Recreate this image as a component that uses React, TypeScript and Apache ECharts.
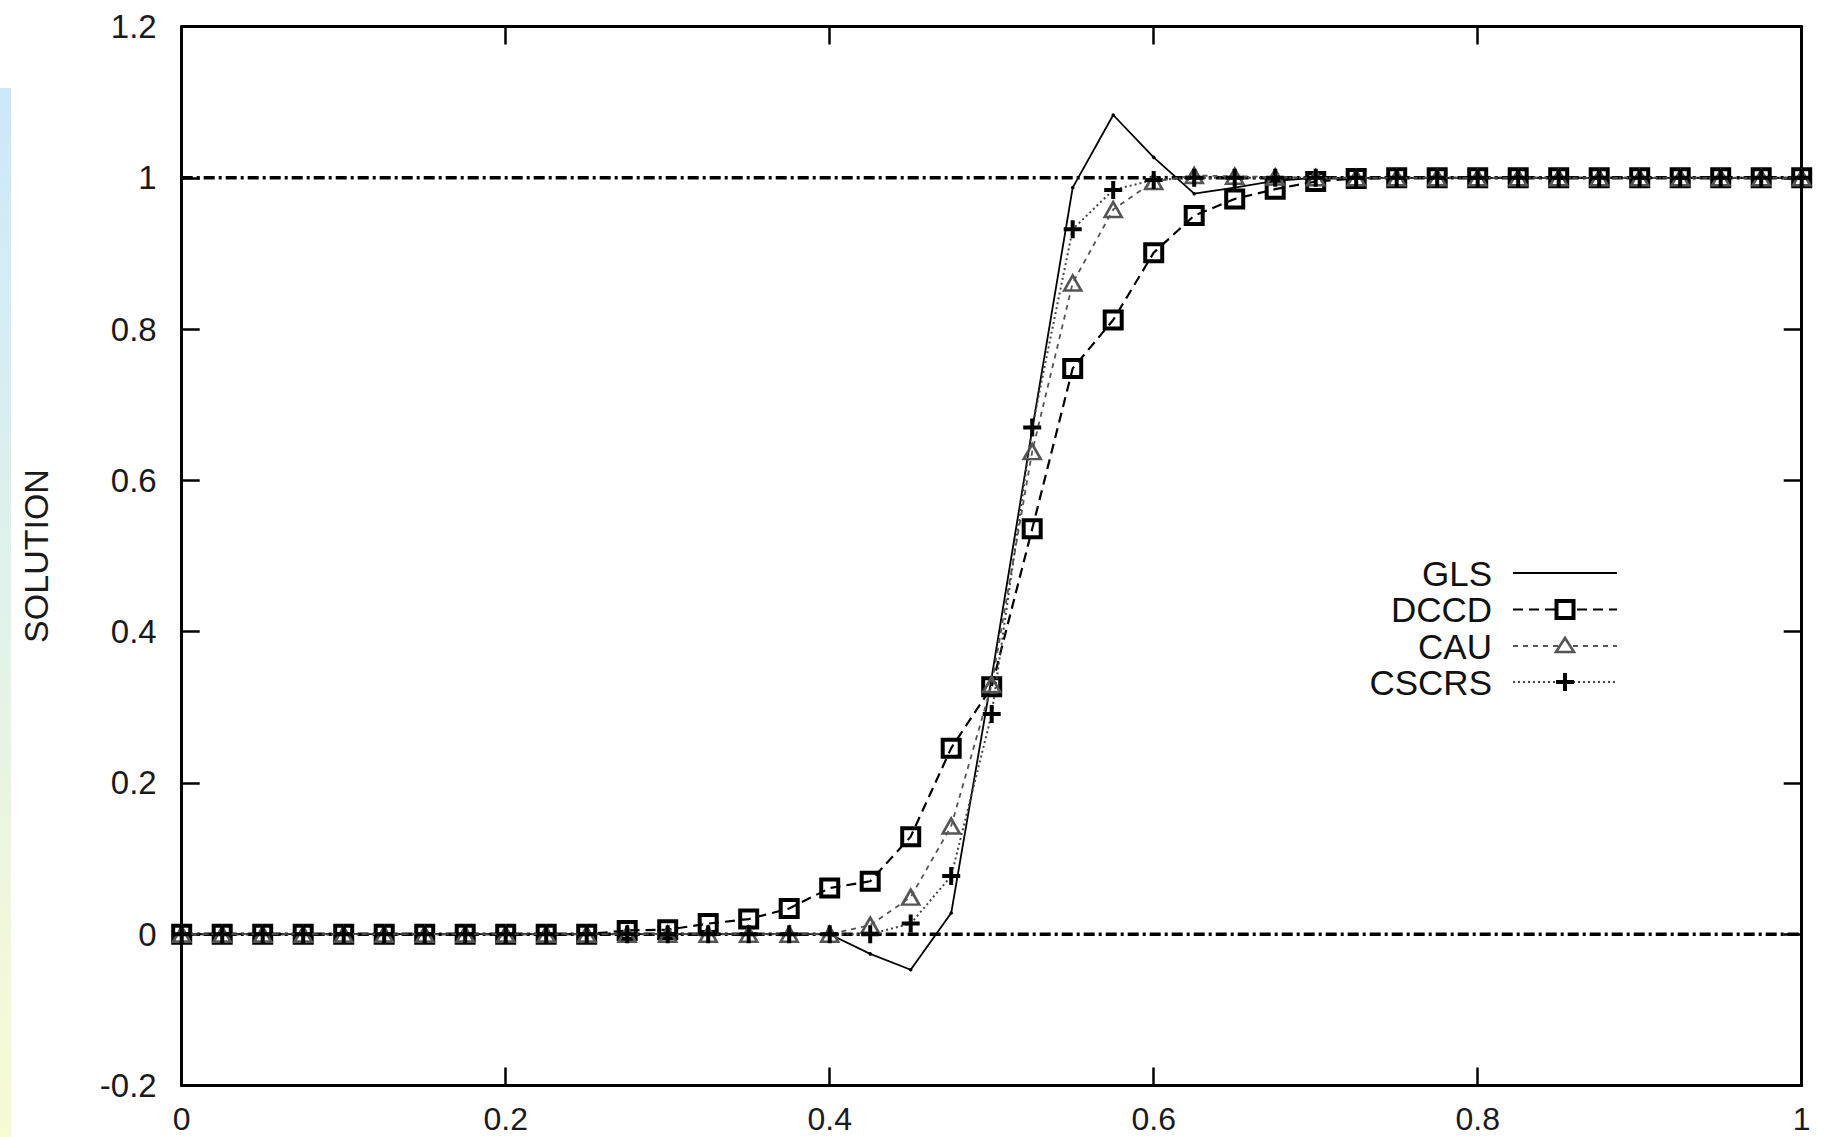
import React, { useEffect, useRef } from "react";
import * as echarts from "echarts";

// ---- data ----
const xValues = [
  0, 0.025, 0.05, 0.075, 0.1, 0.125, 0.15, 0.175, 0.2, 0.225,
  0.25, 0.275, 0.3, 0.325, 0.35, 0.375, 0.4, 0.425, 0.45, 0.475,
  0.5, 0.525, 0.55, 0.575, 0.6, 0.625, 0.65, 0.675, 0.7, 0.725,
  0.75, 0.775, 0.8, 0.825, 0.85, 0.875, 0.9, 0.925, 0.95, 0.975, 1,
];

const glsValues = [
  0, 0, 0, 0, 0, 0, 0, 0, 0, 0,
  0, 0, 0, 0, 0, 0, 0, -0.026, -0.047, 0.028,
  0.34, 0.667, 0.987, 1.083, 1.027, 0.979, 0.987, 0.996, 1.0, 1.0,
  1, 1, 1, 1, 1, 1, 1, 1, 1, 1, 1,
];

const dccdValues = [
  0, 0, 0, 0, 0, 0, 0, 0, 0, 0,
  0, 0.005, 0.006, 0.014, 0.02, 0.034, 0.061, 0.07, 0.129, 0.246,
  0.327, 0.536, 0.748, 0.812, 0.901, 0.95, 0.972, 0.985, 0.995, 0.999,
  1, 1, 1, 1, 1, 1, 1, 1, 1, 1, 1,
];

const cauValues = [
  0, 0, 0, 0, 0, 0, 0, 0, 0, 0,
  0, 0, 0, 0, 0, 0, 0, 0.012, 0.049, 0.143,
  0.33, 0.638, 0.861, 0.958, 0.995, 1.003, 1.002, 1.001, 1, 1,
  1, 1, 1, 1, 1, 1, 1, 1, 1, 1, 1,
];

const cscrsValues = [
  0, 0, 0, 0, 0, 0, 0, 0, 0, 0,
  0, 0, 0, 0, 0, 0, 0, 0, 0.014, 0.077,
  0.291, 0.67, 0.932, 0.984, 0.997, 1.0, 1, 1, 1, 1,
  1, 1, 1, 1, 1, 1, 1, 1, 1, 1, 1,
];

const exactLevels = [0, 1];
const exactXRange = [0, 1];

const seriesNames = ["GLS", "DCCD", "CAU", "CSCRS"];
const yAxisTitle = "SOLUTION";

const FONT = '"Liberation Sans", Arial, Helvetica, sans-serif';
const PLUS_PATH = "path://M7,0H11V7H18V11H11V18H7V11H0V7H7Z";

const toPoints = (vals: number[]) => xValues.map((x, i) => [x, vals[i]]);

export default function App() {
  const ref = useRef<HTMLDivElement>(null);

  useEffect(() => {
    if (!ref.current) return;
    const chart = echarts.init(ref.current, undefined, { renderer: "svg" });

    const axisCommon = {
      type: "value" as const,
      axisLine: { show: true, onZero: false, lineStyle: { color: "#000", width: 3 } },
      axisTick: { show: true, inside: true, length: 18, lineStyle: { color: "#000", width: 2.5 } },
      splitLine: { show: false },
    };

    const labelStyle = { fontSize: 33, fontFamily: FONT, color: "#1a1a1a" };

    // legend drawn with graphics (text right-aligned, sample on the right)
    const rowY = [573, 609.5, 646, 682];
    const textRight = 1492;
    const lineX1 = 1513;
    const lineX2 = 1617;
    const cx = (lineX1 + lineX2) / 2;
    const legendDash: any[] = [null, [10, 6], [5, 5], [2, 3]];
    const legendColor = ["#000", "#000", "#555", "#444"];
    const legendWidth = [2, 2.2, 1.8, 2];
    const legendGraphics: any[] = [];
    seriesNames.forEach((name, i) => {
      legendGraphics.push({
        type: "text",
        x: textRight,
        y: rowY[i],
        z: 100,
        style: {
          text: name,
          fontSize: 35,
          lineHeight: 34,
          fontFamily: FONT,
          fill: "#111",
          align: "right",
          verticalAlign: "middle",
        },
      });
      legendGraphics.push({
        type: "line",
        z: 100,
        shape: { x1: lineX1, y1: rowY[i], x2: lineX2, y2: rowY[i] },
        style: {
          stroke: legendColor[i],
          lineWidth: legendWidth[i],
          lineDash: legendDash[i] || undefined,
        },
      });
    });
    // DCCD square
    legendGraphics.push({
      type: "rect",
      z: 101,
      shape: { x: cx - 8.5, y: rowY[1] - 8.5, width: 17, height: 17 },
      style: { fill: "#fff", stroke: "#000", lineWidth: 4 },
    });
    // CAU triangle
    legendGraphics.push({
      type: "polygon",
      z: 101,
      shape: { points: [[cx, rowY[2] - 8], [cx + 9, rowY[2] + 6], [cx - 9, rowY[2] + 6]] },
      style: { fill: "#fff", stroke: "#555", lineWidth: 2.6 },
    });
    // CSCRS plus
    legendGraphics.push({
      type: "rect",
      z: 101,
      shape: { x: cx - 9, y: rowY[3] - 2, width: 18, height: 4 },
      style: { fill: "#000" },
    });
    legendGraphics.push({
      type: "rect",
      z: 101,
      shape: { x: cx - 2, y: rowY[3] - 9, width: 4, height: 18 },
      style: { fill: "#000" },
    });

    const option: any = {
      animation: false,
      backgroundColor: "#ffffff",
      grid: { left: 181.7, right: 25.3, top: 26.5, bottom: 51.5, show: false },
      xAxis: [
        {
          ...axisCommon,
          min: 0,
          max: 1,
          interval: 0.2,
          position: "bottom",
          axisLabel: { show: true, margin: 17, ...labelStyle, fontSize: 32 },
        },
        {
          ...axisCommon,
          min: 0,
          max: 1,
          interval: 0.2,
          position: "top",
          axisLabel: { show: false },
        },
      ],
      yAxis: [
        {
          ...axisCommon,
          min: -0.2,
          max: 1.2,
          interval: 0.2,
          position: "left",
          axisLabel: { show: true, margin: 25, ...labelStyle },
        },
        {
          ...axisCommon,
          min: -0.2,
          max: 1.2,
          interval: 0.2,
          position: "right",
          axisLabel: { show: false },
        },
      ],
      graphic: [
        {
          type: "rect",
          z: -10,
          shape: { x: 0, y: 88, width: 11, height: 1049 },
          style: {
            fill: new echarts.graphic.LinearGradient(0, 0, 0, 1, [
              { offset: 0, color: "#cbe8fa" },
              { offset: 0.5, color: "#e2f2ea" },
              { offset: 1, color: "#f8fad2" },
            ]),
          },
        },
        {
          type: "text",
          x: 36,
          y: 556,
          rotation: Math.PI / 2,
          style: {
            text: yAxisTitle,
            fontSize: 34,
            fontFamily: FONT,
            fill: "#1a1a1a",
            align: "center",
            verticalAlign: "middle",
          },
        },
        ...legendGraphics,
      ],
      series: [
        ...exactLevels.map((lvl) => ({
          type: "line",
          name: "exact" + lvl,
          data: exactXRange.map((x) => [x, lvl]),
          symbol: "none",
          lineStyle: { color: "#000", width: 3.5, type: [11, 4, 3, 4] },
          z: 1,
          silent: true,
        })),
        {
          type: "line",
          name: seriesNames[0],
          data: toPoints(glsValues),
          symbol: "circle",
          symbolSize: 3.5,
          itemStyle: { color: "#000" },
          lineStyle: { color: "#000", width: 1.8 },
          z: 3,
        },
        {
          type: "line",
          name: seriesNames[1],
          data: toPoints(dccdValues),
          symbol: "rect",
          symbolSize: 17,
          itemStyle: { color: "transparent", borderColor: "#000", borderWidth: 4 },
          lineStyle: { color: "#000", width: 2.2, type: [10, 6] },
          z: 4,
        },
        {
          type: "line",
          name: seriesNames[2],
          data: toPoints(cauValues),
          symbol: "triangle",
          symbolSize: [17, 15],
          itemStyle: { color: "transparent", borderColor: "#555", borderWidth: 2.6 },
          lineStyle: { color: "#555", width: 1.8, type: [5, 5] },
          z: 5,
        },
        {
          type: "line",
          name: seriesNames[3],
          data: toPoints(cscrsValues),
          symbol: PLUS_PATH,
          symbolSize: 18,
          itemStyle: { color: "#000" },
          lineStyle: { color: "#444", width: 2, type: [2, 3] },
          z: 6,
        },
      ],
    };

    chart.setOption(option);
    return () => chart.dispose();
  }, []);

  return (
    <div
      ref={ref}
      style={{
        position: "fixed",
        left: 0,
        top: 0,
        width: 1827,
        height: 1137,
        background: "#fff",
      }}
    />
  );
}
